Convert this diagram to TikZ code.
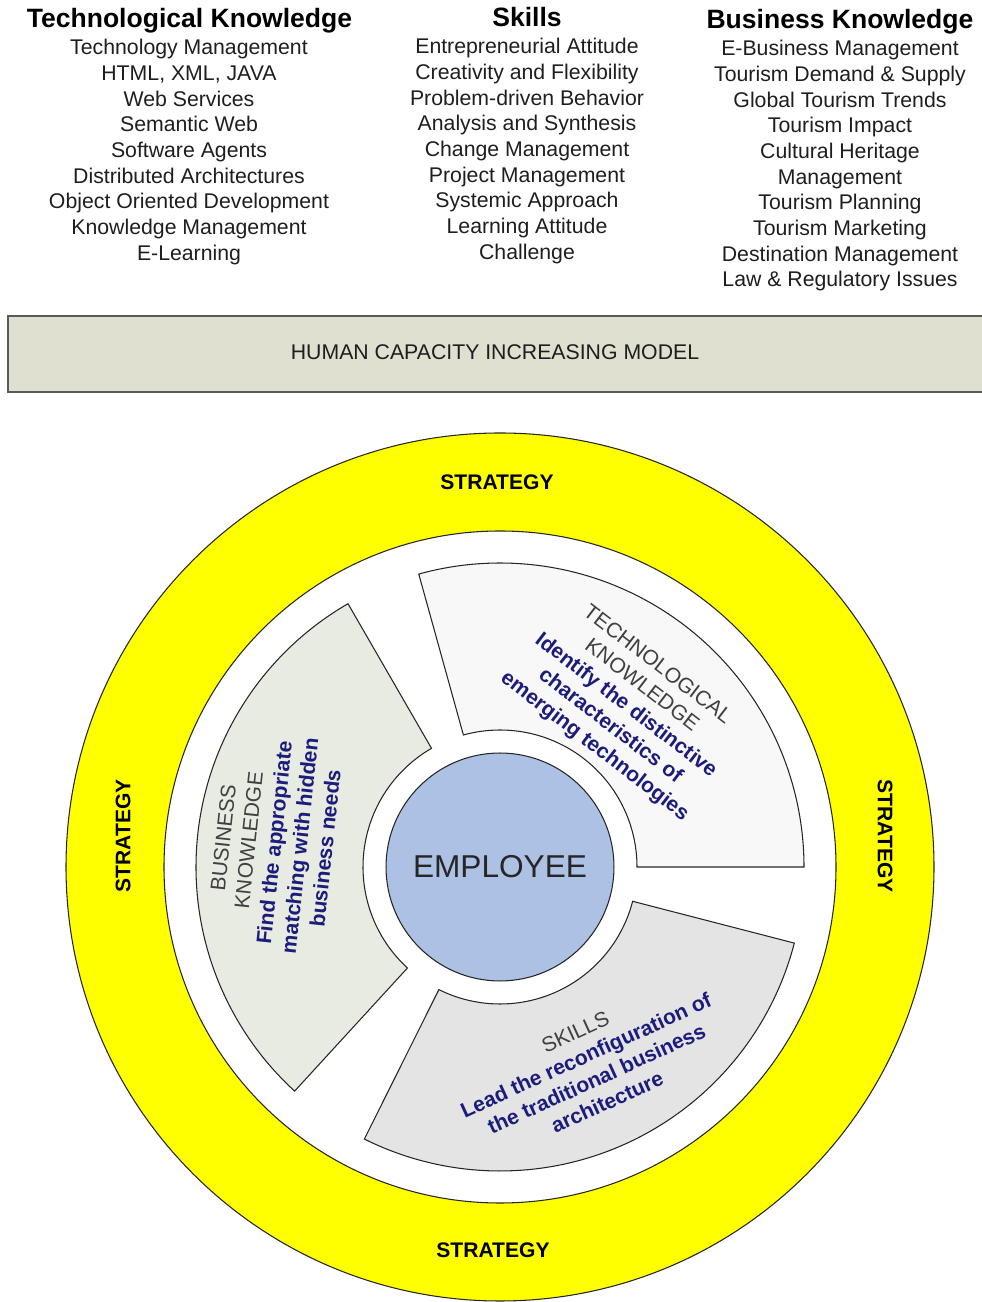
\documentclass[tikz,border=0pt]{standalone}
\usepackage{fontspec}
\setmainfont{Liberation Sans}[BoldFont={Liberation Sans Bold}, ItalicFont={Liberation Sans Italic}]
\definecolor{ringyellow}{RGB}{255,255,0}
\definecolor{employeeblue}{RGB}{172,193,227}
\definecolor{techfill}{RGB}{248,248,248}
\definecolor{busfill}{RGB}{232,235,225}
\definecolor{skillfill}{RGB}{228,228,228}
\definecolor{bannerfill}{RGB}{223,224,207}
\definecolor{notenavy}{RGB}{28,28,125}
\definecolor{titlegray}{RGB}{64,64,64}
\definecolor{itemgray}{RGB}{30,30,30}
\newcommand\sectitle[1]{\textcolor{titlegray}{#1}}
\newcommand\secnote[1]{\textcolor{notenavy}{\bfseries\upshape #1}}
\begin{document}
\begin{tikzpicture}[x=0.02cm,y=0.02cm,
  header/.style={font=\fontsize{15.1}{17}\selectfont\bfseries, anchor=base, inner sep=0},
  item/.style={font=\fontsize{12.1}{14.5}\selectfont, anchor=base, inner sep=0, text=itemgray},
  outline/.style={draw=black!85, line width=0.6pt},
  sectorlabel/.style={font=\fontsize{12}{14.6}\selectfont, align=center, inner sep=0},
  strategy/.style={font=\fontsize{12}{14}\selectfont\bfseries, inner sep=0}]
\useasboundingbox (0,0) rectangle (982,1302);

% column headers
\node[header] (hTech) at (189.5,1274.7) {Technological Knowledge};
\node[header] (hSkill) at (527,1275.5) {Skills};
\node[header] (hBus) at (840,1273) {Business Knowledge};

% column entries
\foreach \t [count=\i from 0] in {Technology Management, {HTML, XML, JAVA}, Web Services,
    Semantic Web, Software Agents, Distributed Architectures, Object Oriented Development,
    Knowledge Management, E-Learning}
  \node[item] (tk\i) at (189,{1247-25.65*\i}) {\t};
\foreach \t [count=\i from 0] in {Entrepreneurial Attitude, Creativity and Flexibility,
    Problem-driven Behavior, Analysis and Synthesis, Change Management, Project Management,
    Systemic Approach, Learning Attitude, Challenge}
  \node[item] (sk\i) at (527,{1248-25.65*\i}) {\t};
\foreach \t [count=\i from 0] in {E-Business Management, Tourism Demand \& Supply,
    Global Tourism Trends, Tourism Impact, Cultural Heritage, Management, Tourism Planning,
    Tourism Marketing, Destination Management, Law \& Regulatory Issues}
  \node[item] (bk\i) at (840,{1246-25.65*\i}) {\t};

% banner
\fill[bannerfill] (8,910) rectangle (982,986);
\draw[black!65, line width=1.2pt] (982,986) -- (8,986) -- (8,910) -- (982,910);
\node[font=\fontsize{12.1}{14.5}\selectfont, text=itemgray] (banner) at (495,950) {HUMAN CAPACITY INCREASING MODEL};

% circular model
\begin{scope}[shift={(500,435)}]
  \path[fill=ringyellow, outline, even odd rule] (0,0) circle[radius=434] (0,0) circle[radius=336];
  \node[strategy] (stTop) at (-3,385) {STRATEGY};
  \node[strategy] (stBottom) at (-7,-383) {STRATEGY};
  \node[strategy, rotate=90] (stLeft) at (-377,31) {STRATEGY};
  \node[strategy, rotate=-90] (stRight) at (385,31) {STRATEGY};

  \draw[outline, fill=techfill] (0:137) -- (0:304) arc[start angle=0, end angle=105.5, radius=304]
    -- (105.5:137) arc[start angle=105.5, end angle=0, radius=137] -- cycle;
  \draw[outline, fill=busfill] (120:137) -- (120:304) arc[start angle=120, end angle=227.5, radius=304]
    -- (227.5:137) arc[start angle=227.5, end angle=120, radius=137] -- cycle;
  \draw[outline, fill=skillfill] (243.5:137) -- (243.5:304) arc[start angle=243.5, end angle=345.5, radius=304]
    -- (345.5:137) arc[start angle=345.5, end angle=243.5, radius=137] -- cycle;

  \node[sectorlabel, rotate=-37.5] (techText) at (52:204)
    {\sectitle{TECHNOLOGICAL}\\\sectitle{KNOWLEDGE}\\\secnote{Identify the distinctive}\\
     \secnote{characteristics of}\\\secnote{emerging technologies}};
  \node[sectorlabel, rotate=84] (busText) at (173.9:227)
    {\sectitle{BUSINESS}\\\sectitle{KNOWLEDGE}\\\secnote{Find the appropriate}\\
     \secnote{matching with hidden}\\\secnote{business needs}};
  \node[sectorlabel, rotate=24.5] (skillText) at (294.5:220)
    {\sectitle{SKILLS}\\\secnote{Lead the reconfiguration of}\\
     \secnote{the traditional business}\\\secnote{architecture}};

  \node[circle, outline, fill=employeeblue, minimum size=4.56cm, inner sep=0,
        font=\fontsize{18}{20}\selectfont, text=black!85] (employee) at (0,0) {EMPLOYEE};
\end{scope}
\end{tikzpicture}
\end{document}
